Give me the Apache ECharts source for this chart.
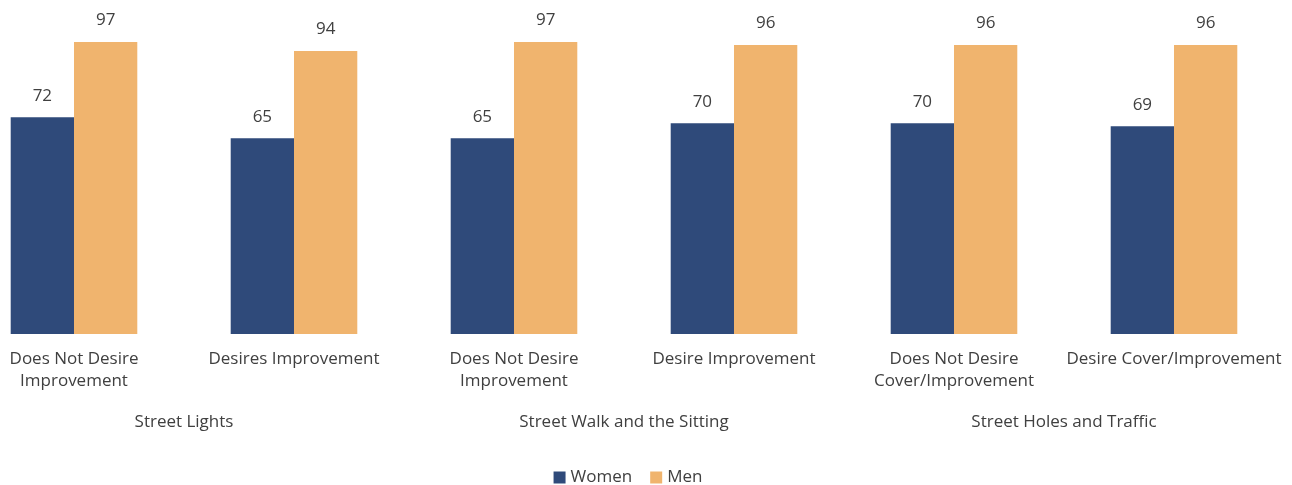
<!DOCTYPE html>
<html>
<head>
<meta charset="utf-8">
<script src="https://cdn.jsdelivr.net/npm/echarts@6/dist/echarts.min.js"></script>
<style>
  html, body { margin: 0; padding: 0; background: #ffffff; overflow: hidden; width: 1292px; height: 485px; }
  /* the plot area starts slightly left of the visible page edge */
  #chart { position: absolute; left: -36px; top: 0; width: 1328px; height: 485px; }
</style>
</head>
<body>
<div id="chart"></div>
<script>
// Survey answers, split by sex, for three street features
const categories = [
  'Does Not Desire\nImprovement',
  'Desires Improvement',
  'Does Not Desire\nImprovement',
  'Desire Improvement',
  'Does Not Desire\nCover/Improvement',
  'Desire Cover/Improvement'
];
const groups = ['Street Lights', 'Street Walk and the Sitting', 'Street Holes and Traffic'];
const women = [72, 65, 65, 70, 70, 69];
const men = [97, 94, 97, 96, 96, 96];

const textColor = '#404040';
const fontFamily = '"Open Sans", "DejaVu Sans", sans-serif';
const fontSize = 17;

const chart = echarts.init(document.getElementById('chart'), null, { renderer: 'canvas' });

const labelStyle = {
  show: true,
  position: 'top',
  distance: 13,
  color: textColor,
  fontSize: fontSize,
  fontFamily: fontFamily
};

chart.setOption({
  animation: false,
  textStyle: { fontFamily: fontFamily },
  grid: { left: 0, right: 8, top: 33, bottom: 151, containLabel: false },
  legend: {
    top: 464,
    left: 'center',
    itemWidth: 12,
    itemHeight: 12,
    itemGap: 18,
    icon: 'rect',
    textStyle: { color: textColor, fontSize: fontSize, fontFamily: fontFamily },
    data: ['Women', 'Men']
  },
  xAxis: [
    {
      type: 'category',
      data: categories,
      axisLine: { show: false },
      axisTick: { show: false },
      axisLabel: {
        interval: 0,
        margin: 14,
        color: textColor,
        fontSize: fontSize,
        lineHeight: 22,
        fontFamily: fontFamily
      }
    },
    {
      type: 'category',
      position: 'bottom',
      data: groups,
      axisLine: { show: false },
      axisTick: { show: false },
      axisLabel: {
        interval: 0,
        margin: 77,
        color: textColor,
        fontSize: fontSize,
        lineHeight: 22,
        fontFamily: fontFamily
      }
    }
  ],
  yAxis: {
    type: 'value',
    min: 0,
    max: 100,
    show: false,
    splitLine: { show: false }
  },
  series: [
    {
      name: 'Women',
      type: 'bar',
      xAxisIndex: 0,
      data: women,
      barWidth: 63.3,
      barGap: '0%',
      itemStyle: { color: '#2F4A7A' },
      label: labelStyle
    },
    {
      name: 'Men',
      type: 'bar',
      xAxisIndex: 0,
      data: men,
      barWidth: 63.3,
      barGap: '0%',
      itemStyle: { color: '#F0B46E' },
      label: labelStyle
    }
  ]
});
</script>
</body>
</html>
